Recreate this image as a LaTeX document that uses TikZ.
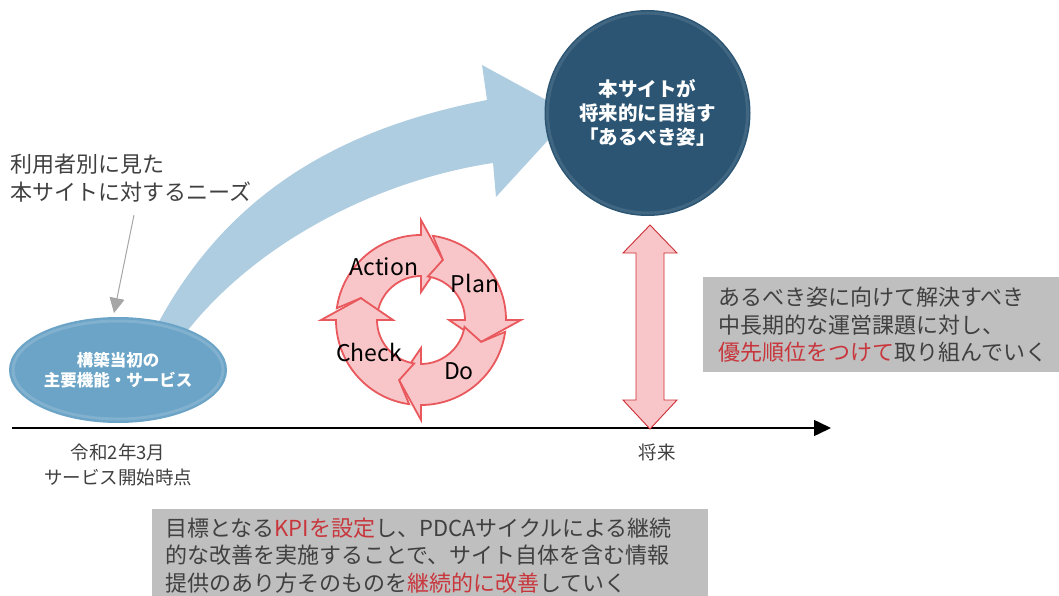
\documentclass[tikz,border=0pt]{standalone}
\usepackage{fontspec}
\setmainfont{Noto Sans CJK JP}
\usetikzlibrary{arrows.meta,shapes.geometric}
\definecolor{arrowblue}{HTML}{AECDE0}
\definecolor{ellblue}{HTML}{6BA4C6}
\definecolor{circblue}{HTML}{2B5573}
\definecolor{pinkfill}{HTML}{F8C6C8}
\definecolor{ringred}{HTML}{E8585C}
\definecolor{dblred}{HTML}{CC2E36}
\definecolor{boxgray}{HTML}{BFBFBF}
\definecolor{txt}{HTML}{404040}
\definecolor{hired}{HTML}{C8363C}
\definecolor{needgray}{HTML}{A6A6A6}
\newcommand{\hl}[1]{\textcolor{hired}{#1}}
\tikzset{
  bodytext/.style={text=txt, font=\fontsize{22}{27.5}\selectfont, align=left, inner sep=0pt},
  datetext/.style={text=txt, font=\fontsize{18.5}{25}\selectfont, align=center, inner sep=0pt},
  pdcatext/.style={text=black, font=\fontsize{23}{24}\selectfont, inner sep=0pt},
  graybox/.style={fill=boxgray, anchor=north west, align=left, text=txt,
    font=\fontsize{22}{27.5}\selectfont, inner ysep=0pt},
  ringarrow/.style={fill=pinkfill, draw=ringred, line width=1.8pt, line join=miter},
}
\begin{document}
\begin{tikzpicture}[x=1pt,y=-1pt]
\useasboundingbox (0,0) rectangle (1059,596);

% big curved arrow
\fill[arrowblue] (152,335) .. controls (230,180) and (360,125) .. (487,100)
  -- (482,65) -- (572,114) -- (496,197) -- (493,163)
  .. controls (380,180) and (260,240) .. (188,330) -- cycle;

% start ellipse
\node[ellipse, fill=ellblue, minimum width=218pt, minimum height=106pt, inner sep=0pt,
  text=white, font=\bfseries\fontsize{16.5}{20}\selectfont, align=center]
  (start) at (118,370) {構築当初の\\主要機能・サービス};
\draw[white, opacity=0.15, line width=3pt] (118,370) ellipse [x radius=105, y radius=49];

% goal circle
\node[circle, fill=circblue, minimum size=206pt, inner sep=0pt,
  text=white, font=\bfseries\fontsize{19.5}{24}\selectfont, align=center]
  (goal) at (647.5,113) {本サイトが\\将来的に目指す\\「あるべき姿」};
\draw[white, opacity=0.1, line width=3pt] (647.5,113) circle [radius=100];

% needs text and gray arrow
\node[bodytext, anchor=west] (needs) at (10,178) {利用者別に見た\\本サイトに対するニーズ};
\coordinate (g1) at (134,215);
\coordinate (g2) at (114,313);
\draw[needgray, line width=1pt, -{Triangle[length=15pt,width=15pt]}] (g1) -- (g2);

% time axis
\coordinate (ax0) at (12,428);
\coordinate (ax1) at (831,428);
\draw[black, line width=1.5pt, -{Triangle[length=17pt,width=16pt]}] (ax0) -- (ax1);

\node[datetext] (startdate) at (118,464.5) {令和2年3月\\サービス開始時点};
\node[datetext] (future) at (657,452) {将来};

% PDCA cycle
\begin{scope}[shift={(421,320)}, yscale=-1]
  \foreach \b in {90,0,-90,180} {
    \filldraw[ringarrow] ({\b+82}:85) arc[start angle={\b+82}, end angle=\b, radius=85]
      -- (\b:100) -- ({\b-20}:64) -- (\b:28) -- (\b:44)
      arc[start angle=\b, end angle={\b+81}, radius=44]
      -- ({\b+70}:64) -- cycle;
  }
\end{scope}
\node[pdcatext] (act) at (384,267) {Action};
\node[pdcatext] (plan) at (475,283) {Plan};
\node[pdcatext] (chk) at (369,352) {Check};
\node[pdcatext] (do) at (459,371) {Do};

% double arrow
\filldraw[fill=pinkfill, draw=dblred, line width=0.9pt, line join=miter]
  (650,225) -- (677,253) -- (664,253) -- (664,400) -- (677,400) -- (650,429)
  -- (623,400) -- (636,400) -- (636,253) -- (623,253) -- cycle;

% right box
\node[graybox, minimum width=356pt, minimum height=95pt, text width=326pt, inner xsep=15pt]
  (rbox) at (703,277) {あるべき姿に向けて解決すべき\\中長期的な運営課題に対し、\\\hl{優先順位をつけて}取り組んでいく};

% bottom box
\node[graybox, minimum width=556pt, minimum height=92pt, text width=530pt, inner xsep=13pt]
  (bbox) at (152,509) {目標となる\hl{KPIを設定}し、PDCAサイクルによる継続\\的な改善を実施することで、サイト自体を含む情報\\提供のあり方そのものを\hl{継続的に改善}していく};
\end{tikzpicture}
\end{document}
